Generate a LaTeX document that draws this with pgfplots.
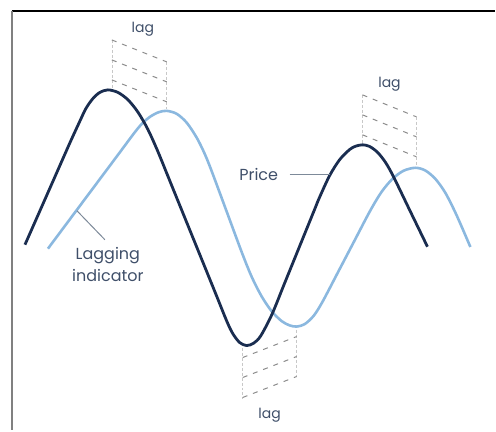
\documentclass[border=0pt]{standalone}
\usepackage{pgfplots}
\pgfplotsset{compat=1.18}
\usepackage{fontspec}
\setmainfont{Poppins}
\definecolor{navy}{HTML}{1A2D50}
\definecolor{lblue}{HTML}{8BB8DF}
\definecolor{txt}{HTML}{3F4F69}
\definecolor{dashg}{HTML}{8C8C8C}
\definecolor{vertg}{HTML}{C8C8C8}
\definecolor{ptr}{HTML}{7D8A99}
\begin{document}
\begin{tikzpicture}
\begin{axis}[x=1pt, y=1pt, xmin=0, xmax=496, ymin=0, ymax=431, y dir=reverse,
  hide axis, clip=false, scale only axis]
\path (axis cs:0,0) rectangle (axis cs:496,431);
% frame
\draw[black, line width=1.3pt] (axis cs:12,11) -- (axis cs:496,11);
\draw[gray, line width=1.6pt] (axis cs:12,11) -- (axis cs:12,431);
% lag boxes
\begin{scope}[vertg, line width=0.6pt, dash pattern=on 3pt off 2pt]
\draw (axis cs:112,40) -- (axis cs:112,88);
\draw (axis cs:167,62) -- (axis cs:167,109);
\draw (axis cs:363,95) -- (axis cs:363,143);
\draw (axis cs:417,117) -- (axis cs:417,166);
\draw (axis cs:243,348) -- (axis cs:243,400);
\draw (axis cs:297,330) -- (axis cs:297,377);
\end{scope}
\begin{scope}[dashg, line width=1pt, dash pattern=on 5pt off 6pt]
\draw (axis cs:112,40) -- (axis cs:167,62);
\draw (axis cs:112,60) -- (axis cs:167,82);
\draw (axis cs:112,80) -- (axis cs:167,102);
\draw (axis cs:363,95) -- (axis cs:417,117);
\draw (axis cs:363,115) -- (axis cs:417,137);
\draw (axis cs:363,135) -- (axis cs:417,157);
\draw (axis cs:243,358) -- (axis cs:297,337);
\draw (axis cs:243,378) -- (axis cs:297,357);
\draw (axis cs:243,398) -- (axis cs:297,377);
\end{scope}
% lagging indicator
\addplot[lblue, line width=2.6pt, smooth, no markers] coordinates {
(48,249) (65,226.2) (82,203.4) (100,179.3) (118,155.2) (135,132.4) (143,123.0)
(151,116.4) (159,112.3) (167,111)
(177,114.0) (187,122.9) (197,137.9) (205,154.1) (212.2,172.0) (227,211.9)
(242.2,252.9) (252,277.1) (262,296.8) (272,311.6) (282,321.5) (290,325.8) (297,327)
(305,324.6) (314,316.3) (322.8,302.4) (338,273.4) (354,242.8) (370.4,211.5)
(382,192.2) (393,179.1) (404,171.0) (416,168)
(426,170.8) (436,179.2) (446,193.2) (457.1,215.3) (471,247.3)};
% price
\addplot[navy, line width=2.8pt, smooth, no markers] coordinates {
(25,245) (40,211) (55,177) (70,143) (79,123.4) (86,108.7) (93,98.7) (100,92.5) (108,90)
(118,92.5) (128,99.8) (138,112.1) (148,129.4) (158,151.5) (170,181.0) (185,217.9)
(200,254.8) (215,291.7) (227,321.4) (233,333.9) (240,343.0) (247,346)
(254,343.6) (261,336.4) (272.2,315.0) (285,283.5) (300,246.6) (315,209.7)
(319.6,198.4) (330,175.9) (340,160.0) (350,149.8) (356,146.4) (363,145)
(370,146.6) (378,152.5) (386,162.6) (394,176.9) (411,212) (428,247)};
% labels
\draw[ptr, line width=1pt] (axis cs:290,175) -- (axis cs:330,175);
\draw[ptr, line width=1pt] (axis cs:77,211) -- (axis cs:105,240);
\node[txt, font=\fontsize{16}{19}\selectfont] at (axis cs:259,175) {Price};
\node[txt, font=\fontsize{16}{22}\selectfont, align=center] at (axis cs:108,265) {Lagging\\indicator};
\node[txt, font=\fontsize{14}{17}\selectfont] at (axis cs:143,29) {lag};
\node[txt, font=\fontsize{14}{17}\selectfont] at (axis cs:390,84) {lag};
\node[txt, font=\fontsize{14}{17}\selectfont] at (axis cs:270,416) {lag};
\end{axis}
\end{tikzpicture}
\end{document}
